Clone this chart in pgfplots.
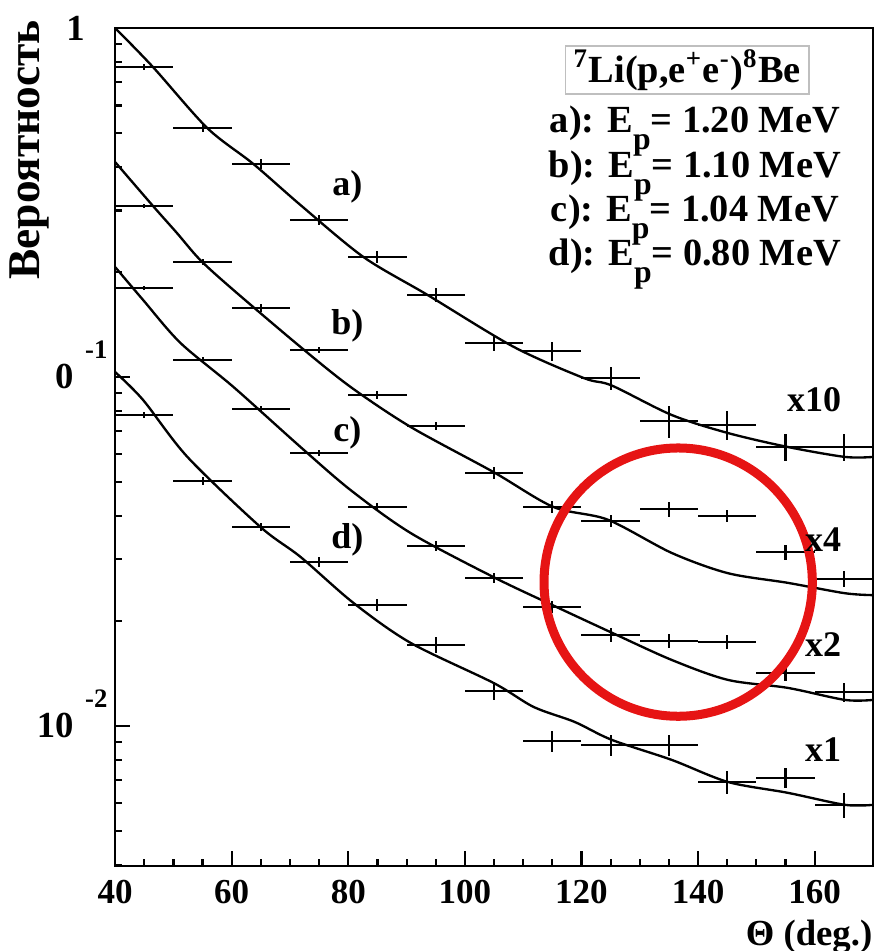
\documentclass[border=0pt]{standalone}
\usepackage{pgfplots}
\pgfplotsset{compat=1.18}
\usepackage{pgfplotstable}
\usepackage{fontspec}
\setmainfont{Liberation Serif}

\definecolor{ring}{RGB}{230,20,20}
\newcommand{\fa}{\fontsize{11.5}{13}\selectfont\bfseries}
\newcommand{\fl}{\fontsize{10.8}{12}\selectfont\bfseries}
\newcommand{\Ep}{E\raisebox{-0.45em}{\fontsize{9.5}{10}\selectfont p}}
\newcommand{\ex}[1]{\smash{\raisebox{9.1pt}{\fontsize{8}{8}\selectfont #1}}}
\newcommand{\one}{\makebox[12.3pt][l]{1}}

% measured points (theta, value, relative y error) for the four energies
\pgfplotstableread{
t   a      ea    b      eb    c      ec    d       ed
45  0.773  0.020 0.309  0.013 0.1799 0.013 0.0778  0.020
55  0.517  0.027 0.2136 0.020 0.1119 0.020 0.0504  0.027
65  0.408  0.033 0.1576 0.027 0.0810 0.020 0.0372  0.027
75  0.2818 0.033 0.1195 0.020 0.0606 0.020 0.0295  0.033
85  0.2207 0.040 0.0888 0.027 0.0424 0.027 0.0222  0.040
95  0.1718 0.047 0.0724 0.027 0.0328 0.033 0.0171  0.054
105 0.1252 0.054 0.0531 0.040 0.0265 0.033 0.0126  0.061
115 0.1187 0.061 0.0424 0.040 0.0219 0.040 0.00906 0.068
125 0.0993 0.075 0.0387 0.040 0.0182 0.047 0.00882 0.068
135 0.0748 0.104 0.0418 0.050 0.0175 0.047 0.00882 0.068
145 0.0729 0.097 0.0400 0.040 0.0174 0.047 0.00691 0.075
155 0.0630 0.090 0.0315 0.050 0.0142 0.054 0.00710 0.068
165 0.0630 0.090 0.0264 0.054 0.0125 0.061 0.00594 0.082
}\pts

\pgfplotsset{pts/.style={draw=none, mark=none,
  error bars/.cd, x dir=both, x fixed=5, y dir=both, y explicit relative,
  error bar style={draw=black, line width=0.6pt}, error mark=none}}

\begin{document}
\begin{tikzpicture}
\begin{axis}[
  name=ax,
  scale only axis,
  width=227.1pt, height=251.1pt,
  xmin=40, xmax=170,
  ymode=log, ymin=0.00397, ymax=1,
  xtick={40,60,...,160},
  xticklabels={40,60,80,100,120,140,160},
  minor x tick num=3,
  ytick={0.01,0.1,1},
  minor ytick={0.004,0.005,0.006,0.007,0.008,0.009,0.02,0.03,0.04,0.05,0.06,0.07,0.08,0.09,0.2,0.3,0.4,0.5,0.6,0.7,0.8,0.9},
  yticklabels={{10\hspace{3.5pt}\ex{-2}},{0\hspace{3.5pt}\ex{-1}},{\one}},
  tick pos=left, tick align=inside,
  major tick length=4.6pt, minor tick length=2.2pt,
  every tick/.style={black, line width=0.65pt},
  axis line style={line width=0.75pt},
  xticklabel style={font=\fontsize{10.5}{12}\selectfont\bfseries, yshift=-0.7pt},
  yticklabel style={font=\fontsize{11}{12}\selectfont\bfseries, anchor=east, inner sep=0pt, xshift=-2.1pt},
  clip=false,
]
% fitted curves
\addplot[black, line width=0.7pt, smooth, tension=0.5] coordinates {
  (40,1.0) (46.5,0.773) (55.8,0.517) (63.7,0.408) (71.8,0.311)
  (82.6,0.2207) (93.6,0.1718) (108.4,0.1219) (120.4,0.0993) (125.2,0.0945)
  (135.5,0.0778) (145.1,0.0691) (155.4,0.0630) (165.2,0.0590) (170,0.0590)
};
\addplot[black, line width=0.7pt, smooth, tension=0.5] coordinates {
  (40,0.413) (46.5,0.309) (50.6,0.2586) (54.6,0.2164) (60.3,0.1775)
  (71.8,0.1219) (80.4,0.0936) (90.7,0.0719) (104.9,0.0534) (115.2,0.0424)
  (124.5,0.0390) (135.5,0.0313) (145.1,0.0274) (155.4,0.0257) (165.2,0.0240) (170,0.0237)
};
\addplot[black, line width=0.7pt, smooth, tension=0.5] coordinates {
  (40,0.2066) (44.8,0.1662) (51.2,0.1252) (60.3,0.0936)
  (71.8,0.0630) (80.4,0.0474) (90.7,0.0357) (104.9,0.0267) (115.0,0.0222)
  (125.2,0.0185) (135.5,0.01545) (145.1,0.01355) (155.4,0.01285) (165.2,0.01187) (170,0.01187)
};
\addplot[black, line width=0.7pt, smooth, tension=0.5] coordinates {
  (40,0.1033) (44.8,0.0859) (52.4,0.0590) (64.9,0.0372)
  (71.8,0.0305) (80.9,0.0225) (90.7,0.01729) (104.9,0.01328) (111.8,0.01133)
  (118.8,0.01027) (125.2,0.00912) (135.5,0.00799) (145.1,0.00691) (155.4,0.00643)
  (165.2,0.00594) (170,0.00594)
};
% data points with errors
\addplot[pts] table[x=t, y=a, y error=ea]{\pts};
\addplot[pts] table[x=t, y=b, y error=eb]{\pts};
\addplot[pts] table[x=t, y=c, y error=ec]{\pts};
\addplot[pts] table[x=t, y=d, y error=ed]{\pts};

\draw[ring, line width=2.7pt] (rel axis cs:0.743,0.3387) circle[radius=40.2pt];

\node[font=\fl] at (rel axis cs:0.3065,0.810) {a)};
\node[font=\fl] at (rel axis cs:0.3065,0.644) {b)};
\node[font=\fl] at (rel axis cs:0.3065,0.5173) {c)};
\node[font=\fl] at (rel axis cs:0.3065,0.3895) {d)};

\node[font=\fl, anchor=east] at (rel axis cs:0.9736,0.5568) {x10};
\node[font=\fl, anchor=east] at (rel axis cs:0.9736,0.3895) {x4};
\node[font=\fl, anchor=east] at (rel axis cs:0.9736,0.2640) {x2};
\node[font=\fl, anchor=east] at (rel axis cs:0.9736,0.1386) {x1};

\node[draw=gray!50, line width=0.4pt, minimum width=72.9pt, minimum height=14.4pt, inner sep=0pt, font=\fa]
  at (rel axis cs:0.755,0.9498) {\textsuperscript{7}Li(p,e\textsuperscript{+}e\textsuperscript{-})\textsuperscript{8}Be};
\node[anchor=base, font=\fa] at (rel axis cs:0.765,0.8757) {a): \Ep= 1.20 MeV};
\node[anchor=base, font=\fa] at (rel axis cs:0.765,0.8220) {b): \Ep= 1.10 MeV};
\node[anchor=base, font=\fa] at (rel axis cs:0.765,0.7694) {c): \Ep= 1.04 MeV};
\node[anchor=base, font=\fa] at (rel axis cs:0.765,0.7168) {d): \Ep= 0.80 MeV};

\node[rotate=90, anchor=east, inner sep=0pt, font=\fontsize{13.6}{14}\selectfont\bfseries]
  at ([shift={(-25.8pt,2.6pt)}]rel axis cs:0,1) {Вероятность};
\node[anchor=north east, inner sep=0pt, font=\fontsize{11}{12}\selectfont\bfseries]
  at ([yshift=-16pt]rel axis cs:1,0) {Θ (deg.)};
\end{axis}
\pgfresetboundingbox
\path[use as bounding box] ([shift={(-34.5pt,-25.5pt)}]ax.south west) rectangle ([shift={(0.6pt,8.4pt)}]ax.north east);
\end{tikzpicture}
\end{document}
